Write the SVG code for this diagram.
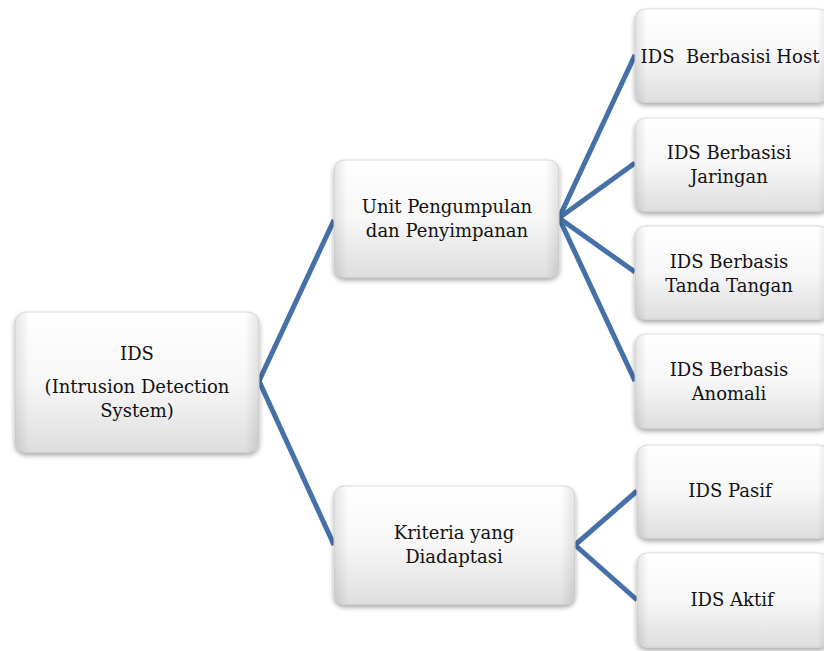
<svg xmlns="http://www.w3.org/2000/svg" width="824" height="651" viewBox="0 0 824 651">
<defs>
<linearGradient id="g" x1="0" y1="0" x2="0" y2="1">
<stop offset="0" stop-color="#ffffff"/>
<stop offset="0.5" stop-color="#f7f7f7"/>
<stop offset="1" stop-color="#dedede"/>
</linearGradient>
<linearGradient id="gh" x1="0" y1="0" x2="1" y2="0">
<stop offset="0" stop-color="#000" stop-opacity="0.10"/>
<stop offset="0.06" stop-color="#000" stop-opacity="0"/>
<stop offset="0.94" stop-color="#000" stop-opacity="0"/>
<stop offset="1" stop-color="#000" stop-opacity="0.10"/>
</linearGradient>
<filter id="sh" x="-10%" y="-10%" width="120%" height="130%">
<feDropShadow dx="0" dy="3" stdDeviation="2.5" flood-color="#000" flood-opacity="0.35"/>
</filter>
</defs>
<style>
.b{fill:url(#g);stroke:#d4d4d4;stroke-width:0.8;filter:url(#sh)}
.e{fill:url(#gh)}
.t{font-family:"DejaVu Serif","Liberation Serif",serif;font-size:18px;fill:#111;text-anchor:middle}
.c{stroke:#4570a8;stroke-width:5;fill:none;stroke-linecap:butt}
</style>
<rect width="824" height="651" fill="#fff"/>
<g id="connectors">
<line class="c" x1="259" y1="381" x2="334" y2="220"/>
<line class="c" x1="259" y1="381" x2="334" y2="545"/>
<line class="c" x1="559" y1="218" x2="635" y2="55"/>
<line class="c" x1="559" y1="218" x2="635" y2="163"/>
<line class="c" x1="559" y1="218" x2="635" y2="272"/>
<line class="c" x1="559" y1="218" x2="635" y2="381"/>
<line class="c" x1="575" y1="545" x2="637" y2="491"/>
<line class="c" x1="575" y1="545" x2="637" y2="600"/>
</g>
<g id="n-ids">
<rect class="b" x="15" y="312" width="244" height="140" rx="11"/>
<rect class="e" x="15" y="312" width="244" height="140" rx="11"/>
<text class="t" x="137" y="360">IDS</text>
<text class="t" x="137" y="393">(Intrusion Detection</text>
<text class="t" x="137" y="417">System)</text>
</g>
<g id="n-unit">
<rect class="b" x="334" y="160" width="225" height="117" rx="10"/>
<rect class="e" x="334" y="160" width="225" height="117" rx="10"/>
<text class="t" x="447" y="213">Unit Pengumpulan</text>
<text class="t" x="447" y="237">dan Penyimpanan</text>
</g>
<g id="n-kriteria">
<rect class="b" x="334" y="486" width="241" height="118" rx="10"/>
<rect class="e" x="334" y="486" width="241" height="118" rx="10"/>
<text class="t" x="454" y="539">Kriteria yang</text>
<text class="t" x="454" y="563">Diadaptasi</text>
</g>
<g id="n-host">
<rect class="b" x="635" y="9" width="194" height="93" rx="10"/>
<rect class="e" x="635" y="9" width="194" height="93" rx="10"/>
<text class="t" x="730" y="63" xml:space="preserve">IDS  Berbasisi Host</text>
</g>
<g id="n-jaringan">
<rect class="b" x="635" y="118" width="194" height="93" rx="10"/>
<rect class="e" x="635" y="118" width="194" height="93" rx="10"/>
<text class="t" x="729" y="159">IDS Berbasisi</text>
<text class="t" x="729" y="183">Jaringan</text>
</g>
<g id="n-tanda">
<rect class="b" x="635" y="226" width="194" height="93" rx="10"/>
<rect class="e" x="635" y="226" width="194" height="93" rx="10"/>
<text class="t" x="729" y="268">IDS Berbasis</text>
<text class="t" x="729" y="292">Tanda Tangan</text>
</g>
<g id="n-anomali">
<rect class="b" x="635" y="334" width="194" height="94" rx="10"/>
<rect class="e" x="635" y="334" width="194" height="94" rx="10"/>
<text class="t" x="729" y="376">IDS Berbasis</text>
<text class="t" x="729" y="400">Anomali</text>
</g>
<g id="n-pasif">
<rect class="b" x="637" y="445" width="192" height="93" rx="10"/>
<rect class="e" x="637" y="445" width="192" height="93" rx="10"/>
<text class="t" x="730" y="497">IDS Pasif</text>
</g>
<g id="n-aktif">
<rect class="b" x="637" y="553" width="192" height="94" rx="10"/>
<rect class="e" x="637" y="553" width="192" height="94" rx="10"/>
<text class="t" x="732" y="606">IDS Aktif</text>
</g>
</svg>
